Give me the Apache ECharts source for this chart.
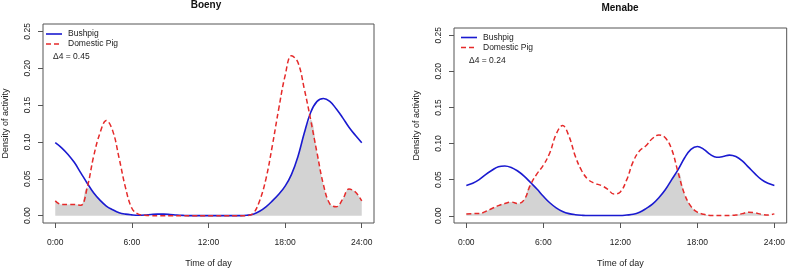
<!DOCTYPE html>
<html>
<head>
<meta charset="utf-8">
<script src="https://cdn.jsdelivr.net/npm/echarts@6/dist/echarts.min.js"></script>
<style>
  html, body { margin: 0; padding: 0; background: #fff; }
  #main { width: 788px; height: 273px; }
</style>
</head>
<body>
<div id="main"></div>
<script>
var hours = [0, 0.5, 1, 1.5, 2, 2.5, 3, 3.5, 4, 4.5, 5, 5.5, 6, 6.5, 7, 7.5, 8, 8.5, 9, 9.5,
  10, 10.5, 11, 11.5, 12, 12.5, 13, 13.5, 14, 14.5, 15, 15.5, 16, 16.5, 17, 17.5, 18, 18.5, 19, 19.5,
  20, 20.5, 21, 21.5, 22, 22.5, 23, 23.5, 24];

// Boeny
var boenyBush = [0.099, 0.092, 0.083, 0.072, 0.058, 0.044, 0.031, 0.021, 0.013, 0.008,
  0.004, 0.002, 0.001, 0.0005, 0.0008, 0.0015, 0.002, 0.002, 0.0015, 0.0008,
  0.0003, 0, 0, 0, 0, 0, 0, 0, 0, 0,
  0.0005, 0.002, 0.006, 0.012, 0.020, 0.029, 0.040, 0.056, 0.080, 0.112,
  0.140, 0.155, 0.159, 0.155, 0.145, 0.133, 0.120, 0.109, 0.099];
var boenyDom = [0.020, 0.015, 0.015, 0.015, 0.014, 0.038, 0.080, 0.112, 0.129, 0.115,
  0.078, 0.038, 0.010, 0.002, 0.0005, 0, 0, 0, 0, 0,
  0, 0, 0, 0, 0, 0, 0, 0, 0, 0,
  0, 0.003, 0.020, 0.050, 0.095, 0.145, 0.190, 0.217, 0.208, 0.172,
  0.130, 0.085, 0.042, 0.016, 0.012, 0.022, 0.036, 0.032, 0.020];

// Menabe
var menabeBush = [0.042, 0.045, 0.050, 0.057, 0.063, 0.068, 0.069, 0.067, 0.062, 0.055,
  0.046, 0.037, 0.027, 0.018, 0.011, 0.006, 0.003, 0.0015, 0.0007, 0.0003,
  0.0003, 0.0003, 0.0003, 0.0003, 0.0003, 0.001, 0.002, 0.005, 0.010, 0.016,
  0.025, 0.036, 0.050, 0.064, 0.080, 0.092, 0.096, 0.092, 0.085, 0.081,
  0.082, 0.084, 0.082, 0.076, 0.067, 0.058, 0.050, 0.045, 0.042];
var menabeDom = [0.0026, 0.003, 0.003, 0.006, 0.010, 0.014, 0.017, 0.019, 0.017, 0.022,
  0.043, 0.058, 0.070, 0.087, 0.113, 0.125, 0.110, 0.082, 0.062, 0.050,
  0.045, 0.042, 0.037, 0.030, 0.033, 0.050, 0.075, 0.090, 0.097, 0.107,
  0.112, 0.108, 0.092, 0.060, 0.030, 0.013, 0.005, 0.002, 0.0005, 0.0003,
  0.0003, 0.0005, 0.001, 0.003, 0.005, 0.004, 0.002, 0.001, 0.0026];

var xTicks = [0, 6, 12, 18, 24];
var yTicks = [0, 0.05, 0.10, 0.15, 0.20, 0.25];
var panels = ['Boeny', 'Menabe'];
var overlapText = ['\u03944 = 0.45', '\u03944 = 0.24'];

function pairs(ys) {
  return hours.map(function (h, i) { return [h, ys[i]]; });
}
function overlap(a, b) {
  return hours.map(function (h, i) { return [h, Math.min(a[i], b[i])]; });
}

var font = 'Liberation Sans, Arial, sans-serif';
var boxColor = '#555';
var textColor = '#222';

var grids = [
  { left: 38, top: 24, width: 336, height: 207 },
  { left: 454, top: 28, width: 333, height: 205 }
];

function xAxis(i) {
  return {
    type: 'value', gridIndex: i, min: -0.96, max: 24.96, position: 'bottom',
    name: 'Time of day', nameLocation: 'middle', nameGap: 36,
    nameTextStyle: { fontFamily: font, fontSize: 9, color: textColor },
    axisLine: { show: false, onZero: false },
    splitLine: { show: false },
    axisTick: { show: true, length: 5, customValues: xTicks, lineStyle: { color: boxColor } },
    axisLabel: {
      customValues: xTicks, margin: 15, fontFamily: font, fontSize: 8.5, color: textColor,
      formatter: function (v) { return v + ':00'; }
    }
  };
}
function yAxis(i) {
  return {
    type: 'value', gridIndex: i, min: -0.01, max: 0.26, position: 'left',
    name: 'Density of activity', nameLocation: 'middle', nameGap: 33,
    nameTextStyle: { fontFamily: font, fontSize: 9, color: textColor },
    axisLine: { show: false, onZero: false },
    splitLine: { show: false },
    axisTick: { show: true, length: 5, customValues: yTicks, lineStyle: { color: boxColor } },
    axisLabel: {
      customValues: yTicks, rotate: 90, margin: 11, fontFamily: font, fontSize: 8.5, color: textColor,
      formatter: function (v) { return v.toFixed(2); }
    }
  };
}

function seriesFor(i, bush, dom) {
  return [
    {
      type: 'line', xAxisIndex: i, yAxisIndex: i, data: overlap(bush, dom),
      smooth: 0.4, showSymbol: false, silent: true, z: 1,
      lineStyle: { width: 0 }, areaStyle: { color: '#d3d3d3', opacity: 1 }
    },
    {
      name: 'Bushpig', type: 'line', xAxisIndex: i, yAxisIndex: i, data: pairs(bush),
      smooth: 0.4, showSymbol: false, z: 2,
      lineStyle: { color: '#1a1ad0', width: 1.6 }
    },
    {
      name: 'Domestic Pig', type: 'line', xAxisIndex: i, yAxisIndex: i, data: pairs(dom),
      smooth: 0.4, showSymbol: false, z: 3,
      lineStyle: { color: '#e52a2a', width: 1.5, type: [5, 3] }
    }
  ];
}

// legend, title and overlap text per panel
var legendPos = [
  { lx: 46, ty: 34, tx: 68, dx: 53, dy: 57, title: [206, 5] },
  { lx: 461, ty: 37.5, tx: 483, dx: 469, dy: 61, title: [620, 8] }
];
var graphics = [];
legendPos.forEach(function (p, i) {
  graphics.push({ type: 'text', x: p.title[0], y: p.title[1],
    style: { text: panels[i], font: 'bold 10px ' + font, fill: '#111', textAlign: 'center', textVerticalAlign: 'middle' } });
  graphics.push({ type: 'line', shape: { x1: p.lx, y1: p.ty, x2: p.lx + 16, y2: p.ty },
    style: { stroke: '#1a1ad0', lineWidth: 1.6 } });
  graphics.push({ type: 'line', shape: { x1: p.lx, y1: p.ty + 10, x2: p.lx + 16, y2: p.ty + 10 },
    style: { stroke: '#e52a2a', lineWidth: 1.5, lineDash: [5, 3] } });
  graphics.push({ type: 'text', x: p.tx, y: p.ty,
    style: { text: 'Bushpig', font: '8.5px ' + font, fill: textColor, textVerticalAlign: 'middle' } });
  graphics.push({ type: 'text', x: p.tx, y: p.ty + 10,
    style: { text: 'Domestic Pig', font: '8.5px ' + font, fill: textColor, textVerticalAlign: 'middle' } });
  graphics.push({ type: 'text', x: p.dx, y: p.dy,
    style: { text: overlapText[i], font: '8.5px ' + font, fill: textColor, textVerticalAlign: 'middle' } });
});

var dom = document.getElementById('main');
var myChart = echarts.init(dom, null, { renderer: 'canvas' });

var option = {
  animation: false,
  backgroundColor: '#fff',
  grid: grids.map(function (g) {
    return Object.assign({ show: true, borderColor: boxColor, borderWidth: 1, backgroundColor: 'transparent' }, g);
  }),
  xAxis: [xAxis(0), xAxis(1)],
  yAxis: [yAxis(0), yAxis(1)],
  series: seriesFor(0, boenyBush, boenyDom).concat(seriesFor(1, menabeBush, menabeDom)),
  graphic: graphics
};

myChart.setOption(option);
window.addEventListener('resize', myChart.resize);
</script>
</body>
</html>
